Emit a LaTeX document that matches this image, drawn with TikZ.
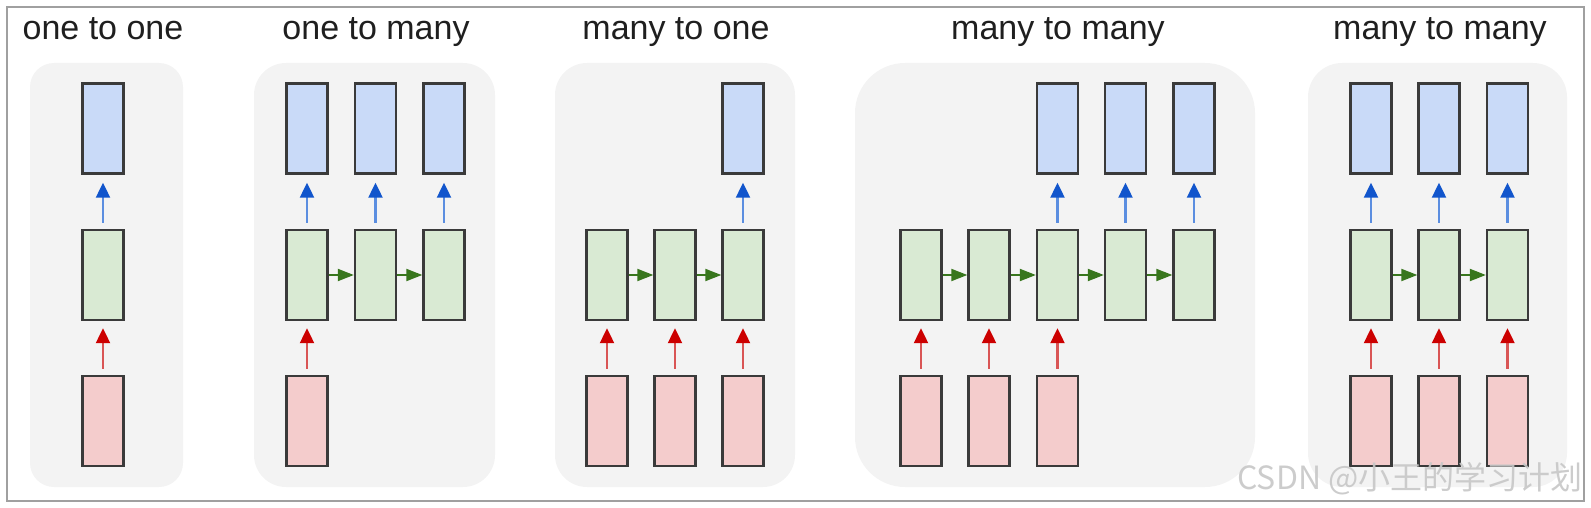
\documentclass[tikz,border=0pt]{standalone}
\usepackage{fontspec}
\setmainfont{Liberation Sans}
\newfontfamily\cjkfont{Noto Sans CJK SC}
\usetikzlibrary{arrows.meta}

\definecolor{panelgray}{HTML}{F3F3F3}
\definecolor{framegray}{HTML}{A0A0A0}
\definecolor{boxline}{HTML}{3A3A3A}
\definecolor{outfill}{HTML}{C9DAF8}
\definecolor{hidfill}{HTML}{D9EAD3}
\definecolor{infill}{HTML}{F4CCCC}
\definecolor{outline}{HTML}{5B8EE0}
\definecolor{outhead}{HTML}{1155CC}
\definecolor{inline}{HTML}{D95555}
\definecolor{inhead}{HTML}{CC0000}
\definecolor{recline}{HTML}{38761D}

\tikzset{
  cell/.style={draw=boxline, line width=1.2pt, minimum width=20.5pt,
    minimum height=45pt, inner sep=0pt},
  outcell/.style={cell, fill=outfill},
  hidcell/.style={cell, fill=hidfill},
  incell/.style={cell, fill=infill},
  outarrow/.style={draw=outline, line width=1.1pt,
    -{Triangle[length=7.5pt, width=7pt, color=outhead]},
    shorten <=3pt, shorten >=4pt},
  inarrow/.style={draw=inline, line width=1.1pt,
    -{Triangle[length=7.5pt, width=7pt, color=inhead]},
    shorten <=3pt, shorten >=3.5pt},
  recarrow/.style={draw=recline, line width=1.1pt,
    -{Triangle[length=8pt, width=6pt]}},
  title/.style={anchor=base, text=black!88, font=\fontsize{17pt}{20pt}\selectfont}
}

\begin{document}
\begin{tikzpicture}[x=0.5pt, y=-0.5pt]
  \useasboundingbox (0,0) rectangle (1591,508);
  \draw[framegray, line width=0.75pt] (7,7) rectangle (1584,501);

  % one to one
  \fill[panelgray, rounded corners=12pt] (30,63) rectangle (183,487);
  \node[title] (t1) at (103,40) {one to one};
  \node[outcell] (a-o) at (103,128.5) {};
  \node[hidcell] (a-h) at (103,275) {};
  \node[incell] (a-i) at (103,421) {};
  \draw[outarrow] (a-h) -- (a-o);
  \draw[inarrow] (a-i) -- (a-h);

  % one to many
  \fill[panelgray, rounded corners=16pt] (254,63) rectangle (495,487);
  \node[title] (t2) at (376,40) {one to many};
  \foreach \k/\x in {1/307,2/375.5,3/444} {
    \node[outcell] (b-o\k) at (\x,128.5) {};
    \node[hidcell] (b-h\k) at (\x,275) {};
    \draw[outarrow] (b-h\k) -- (b-o\k);
  }
  \node[incell] (b-i1) at (307,421) {};
  \draw[inarrow] (b-i1) -- (b-h1);
  \draw[recarrow] (b-h1) -- (b-h2);
  \draw[recarrow] (b-h2) -- (b-h3);

  % many to one
  \fill[panelgray, rounded corners=16pt] (555,63) rectangle (795,487);
  \node[title] (t3) at (676,40) {many to one};
  \foreach \k/\x in {1/607,2/675,3/743} {
    \node[hidcell] (c-h\k) at (\x,275) {};
    \node[incell] (c-i\k) at (\x,421) {};
    \draw[inarrow] (c-i\k) -- (c-h\k);
  }
  \node[outcell] (c-o3) at (743,128.5) {};
  \draw[outarrow] (c-h3) -- (c-o3);
  \draw[recarrow] (c-h1) -- (c-h2);
  \draw[recarrow] (c-h2) -- (c-h3);

  % many to many (delayed)
  \fill[panelgray, rounded corners=25pt] (855,63) rectangle (1255,487);
  \node[title] (t4) at (1058,40) {many to many};
  \foreach \k/\x in {1/921,2/989,3/1057.5,4/1125.5,5/1194}
    \node[hidcell] (d-h\k) at (\x,275) {};
  \foreach \k in {1,2,3} {
    \node[incell] (d-i\k) at (d-h\k |- 0,421) {};
    \draw[inarrow] (d-i\k) -- (d-h\k);
  }
  \foreach \k in {3,4,5} {
    \node[outcell] (d-o\k) at (d-h\k |- 0,128.5) {};
    \draw[outarrow] (d-h\k) -- (d-o\k);
  }
  \draw[recarrow] (d-h1) -- (d-h2);
  \draw[recarrow] (d-h2) -- (d-h3);
  \draw[recarrow] (d-h3) -- (d-h4);
  \draw[recarrow] (d-h4) -- (d-h5);

  % many to many (synced)
  \fill[panelgray, rounded corners=17pt] (1308,63) rectangle (1567,487);
  \node[title] (t5) at (1440,40) {many to many};
  \foreach \k/\x in {1/1371,2/1439,3/1507.5} {
    \node[outcell] (e-o\k) at (\x,128.5) {};
    \node[hidcell] (e-h\k) at (\x,275) {};
    \node[incell] (e-i\k) at (\x,421) {};
    \draw[outarrow] (e-h\k) -- (e-o\k);
    \draw[inarrow] (e-i\k) -- (e-h\k);
  }
  \draw[recarrow] (e-h1) -- (e-h2);
  \draw[recarrow] (e-h2) -- (e-h3);

  \node[anchor=base east, inner sep=0pt, text=black!22, opacity=0.9,
    font=\cjkfont\fontsize{16pt}{18pt}\selectfont] (mark) at (1583,489)
    {CSDN @小王的学习计划};
\end{tikzpicture}
\end{document}
